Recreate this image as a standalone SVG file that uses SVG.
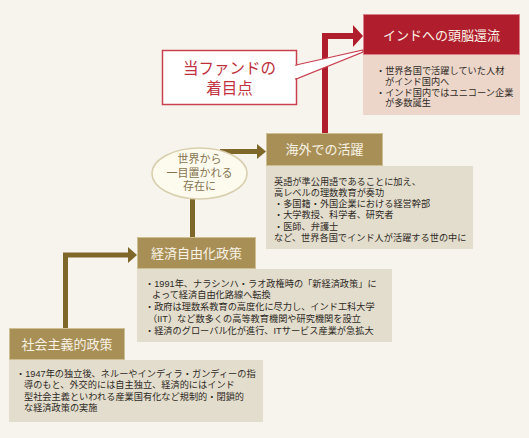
<svg xmlns="http://www.w3.org/2000/svg" width="529" height="438" viewBox="0 0 529 438">
<style>
text{font-family:"Liberation Sans","Noto Sans CJK JP",sans-serif;}
.hdr{fill:#a88f56;stroke:#cdbf93;stroke-width:1;}
.htxt{fill:#f8f3e6;font-size:13px;text-anchor:middle;}
.body{fill:#e3ddcd;}
.btxt{fill:#2e2a25;font-size:9.2px;}
.olive{fill:none;stroke:#7f6729;stroke-width:5;}
.oh{fill:#7f6729;}
.etxt{fill:#85744f;font-size:11px;text-anchor:middle;}
.ctxt{fill:#c0303d;font-size:15.5px;text-anchor:middle;}
</style>
<rect x="0" y="0" width="529" height="438" fill="#f7f4ee"/>
<g id="connectors">
<path d="M325,133 V36 H355" fill="none" stroke="#b01e2d" stroke-width="6"/>
<polygon points="353,25 363,36 353,47" fill="#b01e2d"/>
<path class="olive" d="M220,151.5 H258"/>
<polygon class="oh" points="257,144 266,151.5 257,159"/>
<path class="olive" d="M192.5,190 V237"/>
<path class="olive" d="M65.5,328 V255 H129"/>
<polygon class="oh" points="128,247 137,255 128,263"/>
</g>
<g id="brain-drain">
<rect x="363" y="55" width="157" height="60" fill="#ecd6ca"/>
<rect x="363.5" y="14.5" width="156" height="40" fill="#b01e2d" stroke="#d98088" stroke-width="1"/>
<text class="htxt" x="441.5" y="39.5">インドへの頭脳還流</text>
<text class="btxt"><tspan x="376" y="74">・世界各国で活躍していた人材</tspan><tspan x="385" y="84.5">がインド国内へ</tspan><tspan x="376" y="95.5">・インド国内ではユニコーン企業</tspan><tspan x="385" y="106">が多数誕生</tspan></text>
</g>
<g id="callout">
<rect x="162.5" y="50.5" width="134" height="54" fill="#ffffff" stroke="#c8414f" stroke-width="1.5"/>
<polygon points="296,65 363,50 363,52 296,79" fill="#ffffff" stroke="#c8414f" stroke-width="1.2"/>
<rect x="295" y="66" width="3" height="12" fill="#ffffff"/>
<text class="ctxt"><tspan x="229.5" y="74">当ファンドの</tspan><tspan x="229.5" y="94">着目点</tspan></text>
</g>
<g id="overseas">
<rect class="body" x="266" y="166" width="207" height="83"/>
<rect class="hdr" x="266.5" y="133.5" width="116" height="32"/>
<text class="htxt" x="324.5" y="154">海外での活躍</text>
<text class="btxt"><tspan x="274" y="184.5">英語が準公用語であることに加え、</tspan><tspan x="274" y="195.5">高レベルの理数教育が奏功</tspan><tspan x="274" y="207">・多国籍・外国企業における経営幹部</tspan><tspan x="274" y="218">・大学教授、科学者、研究者</tspan><tspan x="274" y="229.5">・医師、弁護士</tspan><tspan x="274" y="240.5">など、世界各国でインド人が活躍する世の中に</tspan></text>
</g>
<g id="recognized">
<ellipse cx="199.5" cy="173.5" rx="47.5" ry="25.5" fill="#fdfbee" stroke="#d9cfae" stroke-width="1.5"/>
<text class="etxt"><tspan x="199.5" y="163">世界から</tspan><tspan x="199.5" y="177">一目置かれる</tspan><tspan x="199.5" y="190">存在に</tspan></text>
</g>
<g id="liberalization">
<rect class="body" x="137" y="269" width="255" height="73"/>
<rect class="hdr" x="137.5" y="237.5" width="118" height="31"/>
<text class="htxt" x="196.5" y="257.5">経済自由化政策</text>
<text class="btxt"><tspan x="145" y="286.5">・1991年、ナラシンハ・ラオ政権時の「新経済政策」に</tspan><tspan x="152" y="298">よって経済自由化路線へ転換</tspan><tspan x="145" y="309.5">・政府は理数系教育の高度化に尽力し、インド工科大学</tspan><tspan x="148" y="321.5">（IIT）など数多くの高等教育機関や研究機関を設立</tspan><tspan x="145" y="333.5">・経済のグローバル化が進行、ITサービス産業が急拡大</tspan></text>
</g>
<g id="socialist">
<rect class="body" x="9" y="360" width="254" height="62"/>
<rect class="hdr" x="9.5" y="328.5" width="115" height="31"/>
<text class="htxt" x="67" y="348.5">社会主義的政策</text>
<text class="btxt"><tspan x="16" y="376.5">・1947年の独立後、ネルーやインディラ・ガンディーの指</tspan><tspan x="24" y="388">導のもと、外交的には自主独立、経済的にはインド</tspan><tspan x="24" y="399.5">型社会主義といわれる産業国有化など規制的・閉鎖的</tspan><tspan x="24" y="411">な経済政策の実施</tspan></text>
</g>
</svg>
